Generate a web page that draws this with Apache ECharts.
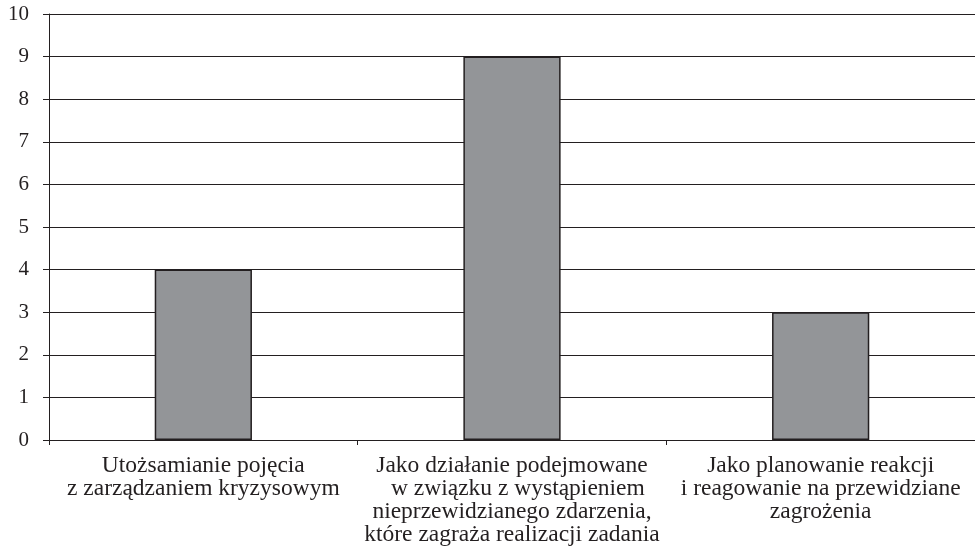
<!DOCTYPE html>
<html><head><meta charset="utf-8">
<script src="https://cdn.jsdelivr.net/npm/echarts@6/dist/echarts.min.js"></script>
<style>html,body{margin:0;padding:0;background:#fff}#c{width:975px;height:558px}</style>
</head><body><div id="c"></div>
<script>
const categories = [
  "Utożsamianie pojęcia\nz zarządzaniem kryzysowym",
  "Jako działanie podejmowane\n  w związku z wystąpieniem\nnieprzewidzianego zdarzenia,\nktóre zagraża realizacji zadania",
  "Jako planowanie reakcji\ni reagowanie na przewidziane\nzagrożenia"
];
const values = [4, 9, 3];
const yTicks = {min: 0, max: 10, interval: 1};

const chart = echarts.init(document.getElementById('c'), null, {renderer: 'canvas'});
chart.setOption({
  animation: false,
  textStyle: {fontFamily: '"Liberation Serif", "DejaVu Serif", serif'},
  grid: {left: 49, right: 0, top: 14, bottom: 118, containLabel: false},
  xAxis: {
    type: 'category',
    data: categories,
    axisLine: {lineStyle: {color: '#231f20', width: 1}},
    axisTick: {show: true, length: 5, lineStyle: {color: '#231f20'}},
    axisLabel: {color: '#231f20', fontSize: 23.5, lineHeight: 23, margin: 14,
      fontFamily: '"Liberation Serif", serif', interval: 0}
  },
  yAxis: {
    type: 'value', min: yTicks.min, max: yTicks.max, interval: yTicks.interval,
    axisLine: {show: true, lineStyle: {color: '#231f20', width: 1}},
    axisTick: {show: true, length: 6, inside: false, lineStyle: {color: '#231f20'}},
    splitLine: {show: true, lineStyle: {color: '#231f20', width: 1}},
    axisLabel: {color: '#231f20', fontSize: 21, margin: 20,
      fontFamily: '"Liberation Serif", serif'}
  },
  series: [{
    type: 'bar',
    data: values,
    barWidth: '31.5%',
    itemStyle: {color: '#939598', borderColor: '#231f20', borderWidth: 1.5}
  }]
});
</script></body></html>
